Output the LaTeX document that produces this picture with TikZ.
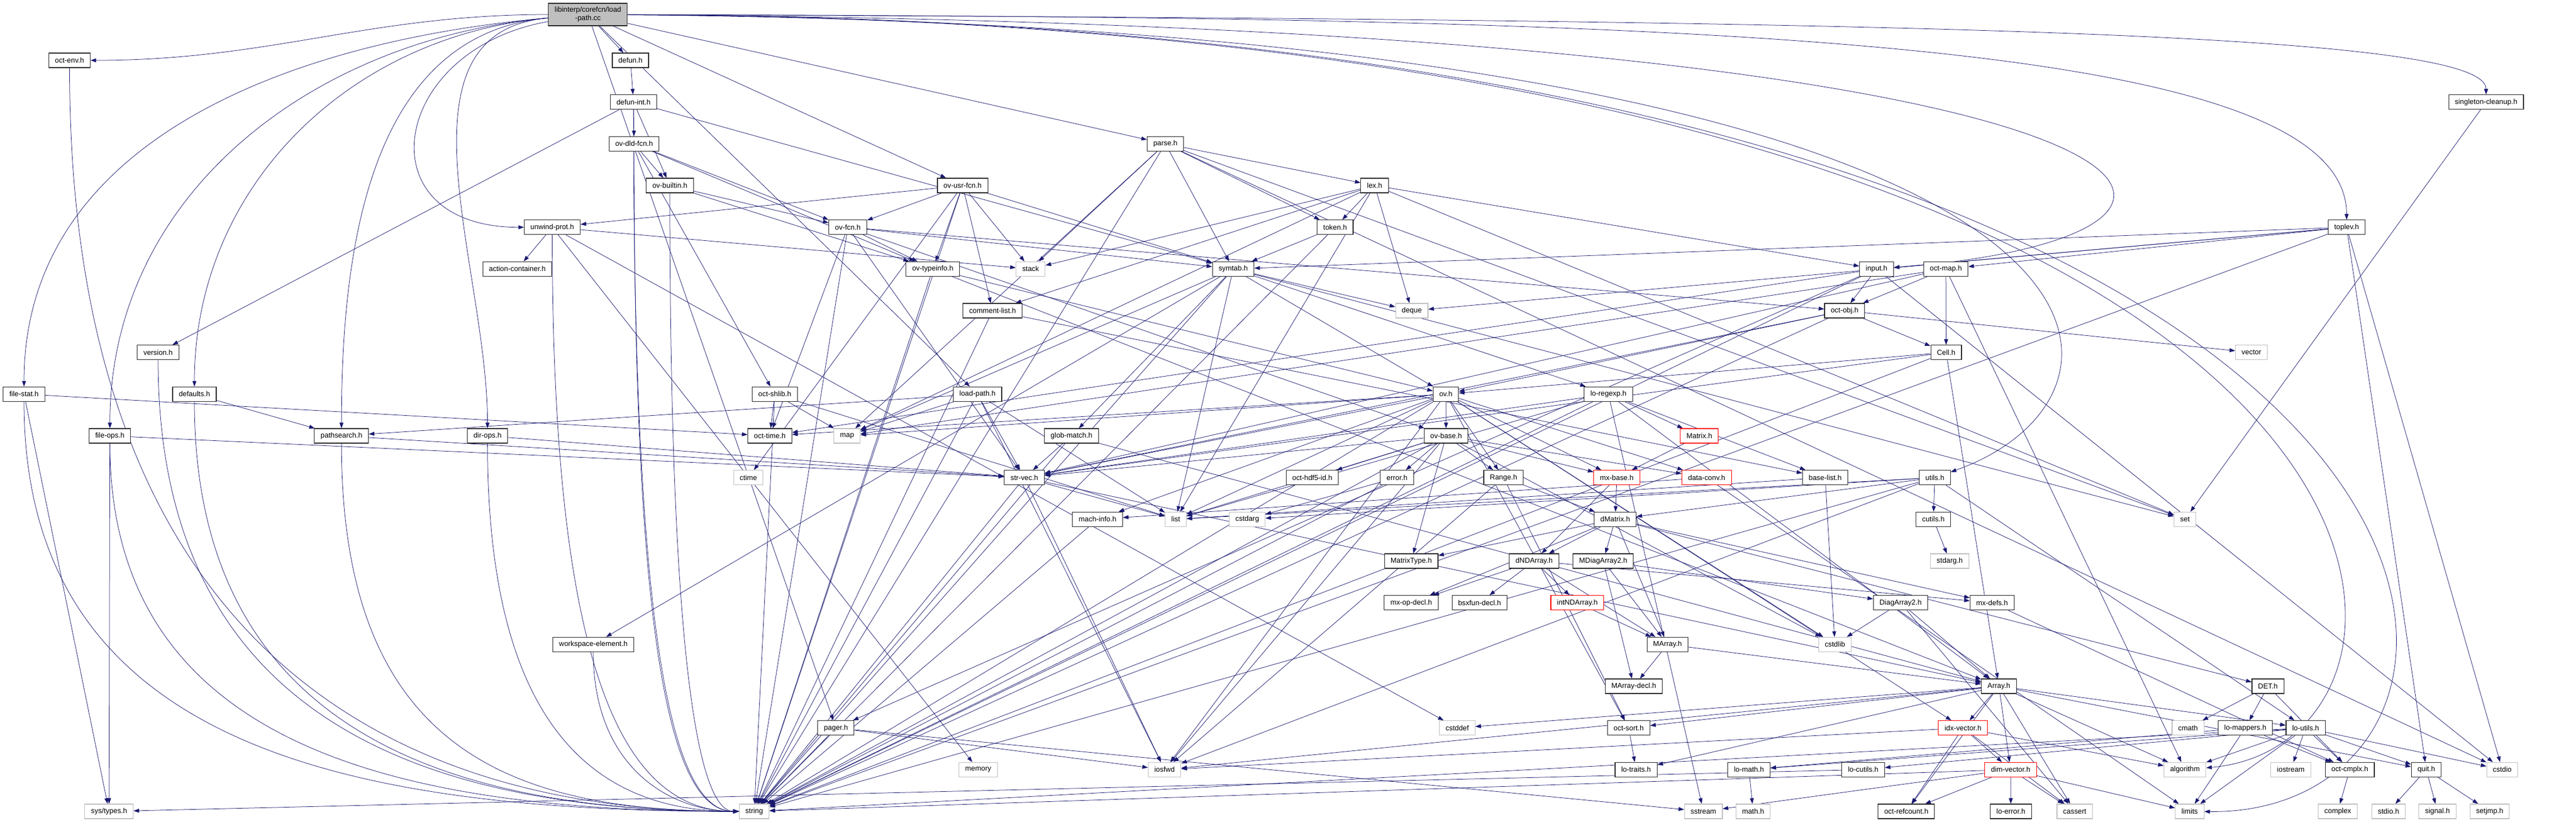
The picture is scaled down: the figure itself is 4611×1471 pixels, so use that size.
\documentclass[tikz,border=0pt]{standalone}
\usepackage{fontspec}
\setmainfont{Liberation Sans}
\usetikzlibrary{arrows.meta,backgrounds}
\definecolor{edgeblue}{RGB}{25,25,112}
\tikzset{
  hdr/.style={draw=black!85, fill=white, line width=1.1pt, font=\fontsize{12.9}{15}\selectfont, inner xsep=11pt, inner ysep=0pt, minimum height=26pt},
  syshdr/.style={hdr, draw=black!25},
  redhdr/.style={hdr, draw=red},
  roothdr/.style={hdr, fill=black!25, align=center, minimum height=40pt},
  dep/.style={draw=edgeblue, line width=0.75pt, -{Triangle[length=10pt,width=7pt]}}
}
\begin{document}
\begin{tikzpicture}[x=1pt,y=-1pt]
\useasboundingbox (0,0) rectangle (4611,1471);
\node[roothdr] (root) at (1052.4,26) {libinterp/corefcn/load\\-path.cc};
\node[hdr] (octenv) at (124.5,108) {oct-env.h};
\node[hdr] (defun) at (1128.5,108) {defun.h};
\node[hdr] (defunint) at (1134,182.7) {defun-int.h};
\node[hdr] (singleton) at (4450,182.7) {singleton-cleanup.h};
\node[hdr] (ovdldfcn) at (1135,257.3) {ov-dld-fcn.h};
\node[hdr] (parse) at (2086,257.3) {parse.h};
\node[hdr] (ovbuiltin) at (1199,332) {ov-builtin.h};
\node[hdr] (ovusrfcn) at (1723,332) {ov-usr-fcn.h};
\node[hdr] (lex) at (2460.5,332) {lex.h};
\node[hdr] (unwindprot) at (988.5,406.7) {unwind-prot.h};
\node[hdr] (ovfcn) at (1517.6,406.7) {ov-fcn.h};
\node[hdr] (token) at (2389.8,406.7) {token.h};
\node[hdr] (toplev) at (4200.4,406.7) {toplev.h};
\node[hdr] (actioncontainer) at (926,481.3) {action-container.h};
\node[hdr] (ovtypeinfo) at (1669.7,481.3) {ov-typeinfo.h};
\node[syshdr] (stack) at (1844.8,481.3) {stack};
\node[hdr] (symtab) at (2207.4,481.3) {symtab.h};
\node[hdr] (input) at (3359,481.3) {input.h};
\node[hdr] (octmap) at (3483,481.3) {oct-map.h};
\node[hdr] (commentlist) at (1776.7,556) {comment-list.h};
\node[syshdr] (deque) at (2527,556) {deque};
\node[hdr] (octobj) at (3301.7,556) {oct-obj.h};
\node[hdr] (version) at (283,630.7) {version.h};
\node[hdr] (Cell) at (3483.5,630.7) {Cell.h};
\node[syshdr] (vector) at (4030,630.7) {vector};
\node[hdr] (filestat) at (43,705.3) {file-stat.h};
\node[hdr] (defaults) at (348,705.3) {defaults.h};
\node[hdr] (octshlib) at (1386.8,705.3) {oct-shlib.h};
\node[hdr] (loadpath) at (1749.7,705.3) {load-path.h};
\node[hdr] (ov) at (2588,705.3) {ov.h};
\node[hdr] (loregexp) at (2879,705.3) {lo-regexp.h};
\node[hdr] (fileops) at (196.7,780) {file-ops.h};
\node[hdr] (pathsearch) at (611.2,780) {pathsearch.h};
\node[hdr] (dirops) at (872.6,780) {dir-ops.h};
\node[hdr] (octtime) at (1378,780) {oct-time.h};
\node[syshdr] (map) at (1516.2,780) {map};
\node[hdr] (globmatch) at (1918,780) {glob-match.h};
\node[hdr] (ovbase) at (2588.5,780) {ov-base.h};
\node[redhdr] (Matrix) at (3041.8,780) {Matrix.h};
\node[syshdr] (ctime) at (1339.5,854.7) {ctime};
\node[hdr] (strvec) at (1833.6,854.7) {str-vec.h};
\node[hdr] (octhdf5id) at (2348.9,854.7) {oct-hdf5-id.h};
\node[hdr] (error) at (2500.5,854.7) {error.h};
\node[hdr] (Range) at (2691.3,854.7) {Range.h};
\node[redhdr] (mxbase) at (2894,854.7) {mx-base.h};
\node[redhdr] (dataconv) at (3054.8,854.7) {data-conv.h};
\node[hdr] (baselist) at (3267,854.7) {base-list.h};
\node[hdr] (utils) at (3463.3,854.7) {utils.h};
\node[hdr] (machinfo) at (1964.6,929.3) {mach-info.h};
\node[syshdr] (list) at (2104.5,929.3) {list};
\node[syshdr] (cstdarg) at (2232.5,929.3) {cstdarg};
\node[hdr] (dMatrix) at (2891.2,929.3) {dMatrix.h};
\node[hdr] (cutils) at (3460.6,929.3) {cutils.h};
\node[syshdr] (set) at (3911,929.3) {set};
\node[hdr] (MatrixType) at (2526,1004) {MatrixType.h};
\node[hdr] (dNDArray) at (2746,1004) {dNDArray.h};
\node[hdr] (MDiagArray2) at (2869.7,1004) {MDiagArray2.h};
\node[syshdr] (stdarg) at (3490,1004) {stdarg.h};
\node[hdr] (mxopdecl) at (2526,1078.7) {mx-op-decl.h};
\node[hdr] (bsxfundecl) at (2648.4,1078.7) {bsxfun-decl.h};
\node[redhdr] (intNDArray) at (2823.4,1078.7) {intNDArray.h};
\node[hdr] (DiagArray2) at (3402,1078.7) {DiagArray2.h};
\node[hdr] (mxdefs) at (3565.7,1078.7) {mx-defs.h};
\node[hdr] (workspace) at (1062,1153.3) {workspace-element.h};
\node[hdr] (MArray) at (2984.8,1153.3) {MArray.h};
\node[syshdr] (cstdlib) at (3284.5,1153.3) {cstdlib};
\node[hdr] (MArraydecl) at (2924.4,1228) {MArray-decl.h};
\node[hdr] (Array) at (3578,1228) {Array.h};
\node[hdr] (DET) at (4059.5,1228) {DET.h};
\node[hdr] (pager) at (1496.3,1302.7) {pager.h};
\node[syshdr] (cstddef) at (2608.4,1302.7) {cstddef};
\node[hdr] (octsort) at (2915.3,1302.7) {oct-sort.h};
\node[redhdr] (idxvector) at (3513.7,1302.7) {idx-vector.h};
\node[syshdr] (cmath) at (3916.5,1302.7) {cmath};
\node[hdr] (lomappers) at (4019,1302.7) {lo-mappers.h};
\node[hdr] (loutils) at (4127,1302.7) {lo-utils.h};
\node[syshdr] (memory) at (1751,1377.3) {memory};
\node[syshdr] (iosfwd) at (2084.6,1377.3) {iosfwd};
\node[hdr] (lotraits) at (2928.5,1377.3) {lo-traits.h};
\node[hdr] (lomath) at (3130.6,1377.3) {lo-math.h};
\node[hdr] (locutils) at (3335,1377.3) {lo-cutils.h};
\node[redhdr] (dimvector) at (3599,1377.3) {dim-vector.h};
\node[syshdr] (algorithm) at (3911,1377.3) {algorithm};
\node[syshdr] (iostream) at (4100.4,1377.3) {iostream};
\node[hdr] (octcmplx) at (4206,1377.3) {oct-cmplx.h};
\node[hdr] (quit) at (4343,1377.3) {quit.h};
\node[syshdr] (cstdio) at (4479,1377.3) {cstdio};
\node[syshdr] (systypes) at (195.2,1452) {sys/types.h};
\node[syshdr] (string) at (1350,1452) {string};
\node[syshdr] (sstream) at (3049,1452) {sstream};
\node[syshdr] (mathh) at (3138,1452) {math.h};
\node[hdr] (octrefcount) at (3412.2,1452) {oct-refcount.h};
\node[hdr] (loerror) at (3599.4,1452) {lo-error.h};
\node[syshdr] (cassert) at (3713.7,1452) {cassert};
\node[syshdr] (limits) at (3919.4,1452) {limits};
\node[syshdr] (complex) at (4184.6,1452) {complex};
\node[syshdr] (stdioh) at (4275.4,1452) {stdio.h};
\node[syshdr] (signalh) at (4363,1452) {signal.h};
\node[syshdr] (setjmp) at (4456.4,1452) {setjmp.h};
\begin{pgfonlayer}{background}
\draw[dep] (root) to[out=180,in=0] (octenv);
\foreach \dst in {filestat, fileops, defaults, pathsearch, dirops}
  \draw[dep] (root) to[out=185,in=90] (\dst);
\draw[dep] (root) to[out=190,in=180,looseness=2] (unwindprot);
\draw[dep] (root) .. controls (3000,30) and (4200,60) .. (toplev);
\draw[dep] (root) .. controls (3500,35) and (4450,60) .. (singleton);
\draw[dep] (root) .. controls (4000,45) and (4150,420) .. (input);
\draw[dep] (root) .. controls (3900,50) and (3900,700) .. (utils);
\draw[dep] (root) .. controls (4450,40) and (4460,1330) .. (algorithm);
\draw[dep] (root) .. controls (4600,35) and (4610,1460) .. (limits);
\foreach \src/\a/\b in {octenv/1000/700, version/650/600, filestat/620/750, defaults/600/550, fileops/550/650, pathsearch/550/450, dirops/500/300, defunint/950/150, ovdldfcn/900/150, ovbuiltin/850/100, unwindprot/750/250, workspace/220/150}
  \draw[dep] (\src) .. controls +(0,\a) and +(-\b,0) .. (string);
\foreach \src/\dst in {root/defun, root/parse, root/ovusrfcn, root/loadpath, root/pager,
  defun/defunint,
  defunint/ovbuiltin, defunint/ovdldfcn, defunint/symtab, defunint/version,
  ovdldfcn/octshlib, ovdldfcn/ovfcn, ovdldfcn/ovbuiltin, ovdldfcn/ovtypeinfo,
  ovbuiltin/ovfcn, ovbuiltin/ovtypeinfo,
  ovfcn/string, ovfcn/octtime, ovfcn/strvec, ovfcn/octobj, ovfcn/ovbase, ovfcn/ovtypeinfo, ovfcn/symtab,
  ovusrfcn/ctime, ovusrfcn/string, ovusrfcn/stack, ovusrfcn/commentlist, ovusrfcn/ovfcn, ovusrfcn/ovtypeinfo, ovusrfcn/symtab, ovusrfcn/unwindprot,
  unwindprot/cstddef, unwindprot/memory, unwindprot/actioncontainer, unwindprot/stack,
  parse/cstdio, parse/map, parse/set, parse/stack, parse/string, parse/lex, parse/symtab, parse/token,
  lex/deque, lex/list, lex/map, lex/set, lex/stack, lex/commentlist, lex/input, lex/token,
  token/string, token/symtab,
  toplev/cstdio, toplev/deque, toplev/string, toplev/quit, toplev/input, toplev/octmap, toplev/symtab,
  singleton/set,
  symtab/deque, symtab/list, symtab/map, symtab/set, symtab/string, symtab/globmatch, symtab/loregexp, symtab/ov, symtab/workspace,
  input/cstdio, input/string, input/octtime, input/octobj, input/pager,
  octmap/Cell, octmap/octobj, octmap/algorithm, octmap/map, octmap/strvec,
  octobj/string, octobj/vector, octobj/strvec, octobj/Cell, octobj/ov,
  Cell/string, Cell/Array, Cell/strvec, Cell/ov,
  commentlist/string, commentlist/baselist,
  ovtypeinfo/string, ovtypeinfo/Array, ovtypeinfo/ov,
  filestat/systypes, filestat/octtime,
  defaults/pathsearch,
  fileops/systypes, fileops/strvec,
  pathsearch/strvec,
  dirops/strvec,
  octshlib/string, octshlib/list, octshlib/map, octshlib/octtime,
  loadpath/iosfwd, loadpath/list, loadpath/map, loadpath/string, loadpath/pathsearch, loadpath/strvec,
  pager/iosfwd, pager/sstream, pager/string,
  ov/cstdlib, ov/iosfwd, ov/string, ov/list, ov/map, ov/Range, ov/dataconv, ov/idxvector, ov/machinfo, ov/mxbase, ov/octtime, ov/strvec, ov/ovbase, ov/octsort,
  loregexp/list, loregexp/sstream, loregexp/string, loregexp/Array, loregexp/Matrix, loregexp/baselist, loregexp/strvec,
  ovbase/cstdlib, ovbase/iosfwd, ovbase/list, ovbase/string, ovbase/Range, ovbase/dataconv, ovbase/error, ovbase/MatrixType, ovbase/mxbase, ovbase/octhdf5id, ovbase/strvec,
  globmatch/string, globmatch/Array, globmatch/strvec,
  strvec/iosfwd, strvec/list, strvec/string, strvec/Array,
  machinfo/string,
  error/cstdarg, error/string,
  Range/iosfwd, Range/dMatrix, Range/octsort,
  mxbase/dMatrix, mxbase/dNDArray,
  Matrix/mxbase,
  dataconv/limits, dataconv/machinfo,
  baselist/list, baselist/cstdlib,
  utils/cstdarg, utils/iosfwd, utils/string, utils/list, utils/dMatrix, utils/loutils, utils/cutils,
  cutils/stdarg,
  dMatrix/MArray, dMatrix/MDiagArray2, dMatrix/MatrixType, dMatrix/dNDArray, dMatrix/mxdefs, dMatrix/mxopdecl, dMatrix/DET,
  dNDArray/intNDArray, dNDArray/MArray, dNDArray/mxdefs, dNDArray/mxopdecl, dNDArray/bsxfundecl,
  MDiagArray2/DiagArray2, MDiagArray2/MArray, MDiagArray2/MArraydecl,
  intNDArray/MArray,
  MArray/Array, MArray/MArraydecl,
  DiagArray2/cassert, DiagArray2/cstdlib, DiagArray2/Array,
  mxdefs/octcmplx,
  Array/cassert, Array/cstddef, Array/algorithm, Array/iosfwd, Array/dimvector, Array/idxvector, Array/lotraits, Array/loutils, Array/octsort, Array/quit, Array/octrefcount,
  idxvector/cassert, idxvector/algorithm, idxvector/iosfwd, idxvector/dimvector, idxvector/octrefcount,
  dimvector/cassert, dimvector/limits, dimvector/sstream, dimvector/string, dimvector/loerror, dimvector/octrefcount,
  octsort/lotraits,
  lomath/mathh,
  locutils/systypes,
  loutils/algorithm, loutils/cstdio, loutils/iostream, loutils/limits, loutils/string, loutils/locutils, loutils/octcmplx, loutils/quit, loutils/lomath,
  lomappers/limits, lomappers/lomath, lomappers/octcmplx,
  DET/cmath, DET/lomappers, DET/octcmplx,
  octcmplx/complex,
  quit/stdioh, quit/signalh, quit/setjmp}
  \draw[dep] (\src) -- (\dst);
\end{pgfonlayer}
\end{tikzpicture}
\end{document}
